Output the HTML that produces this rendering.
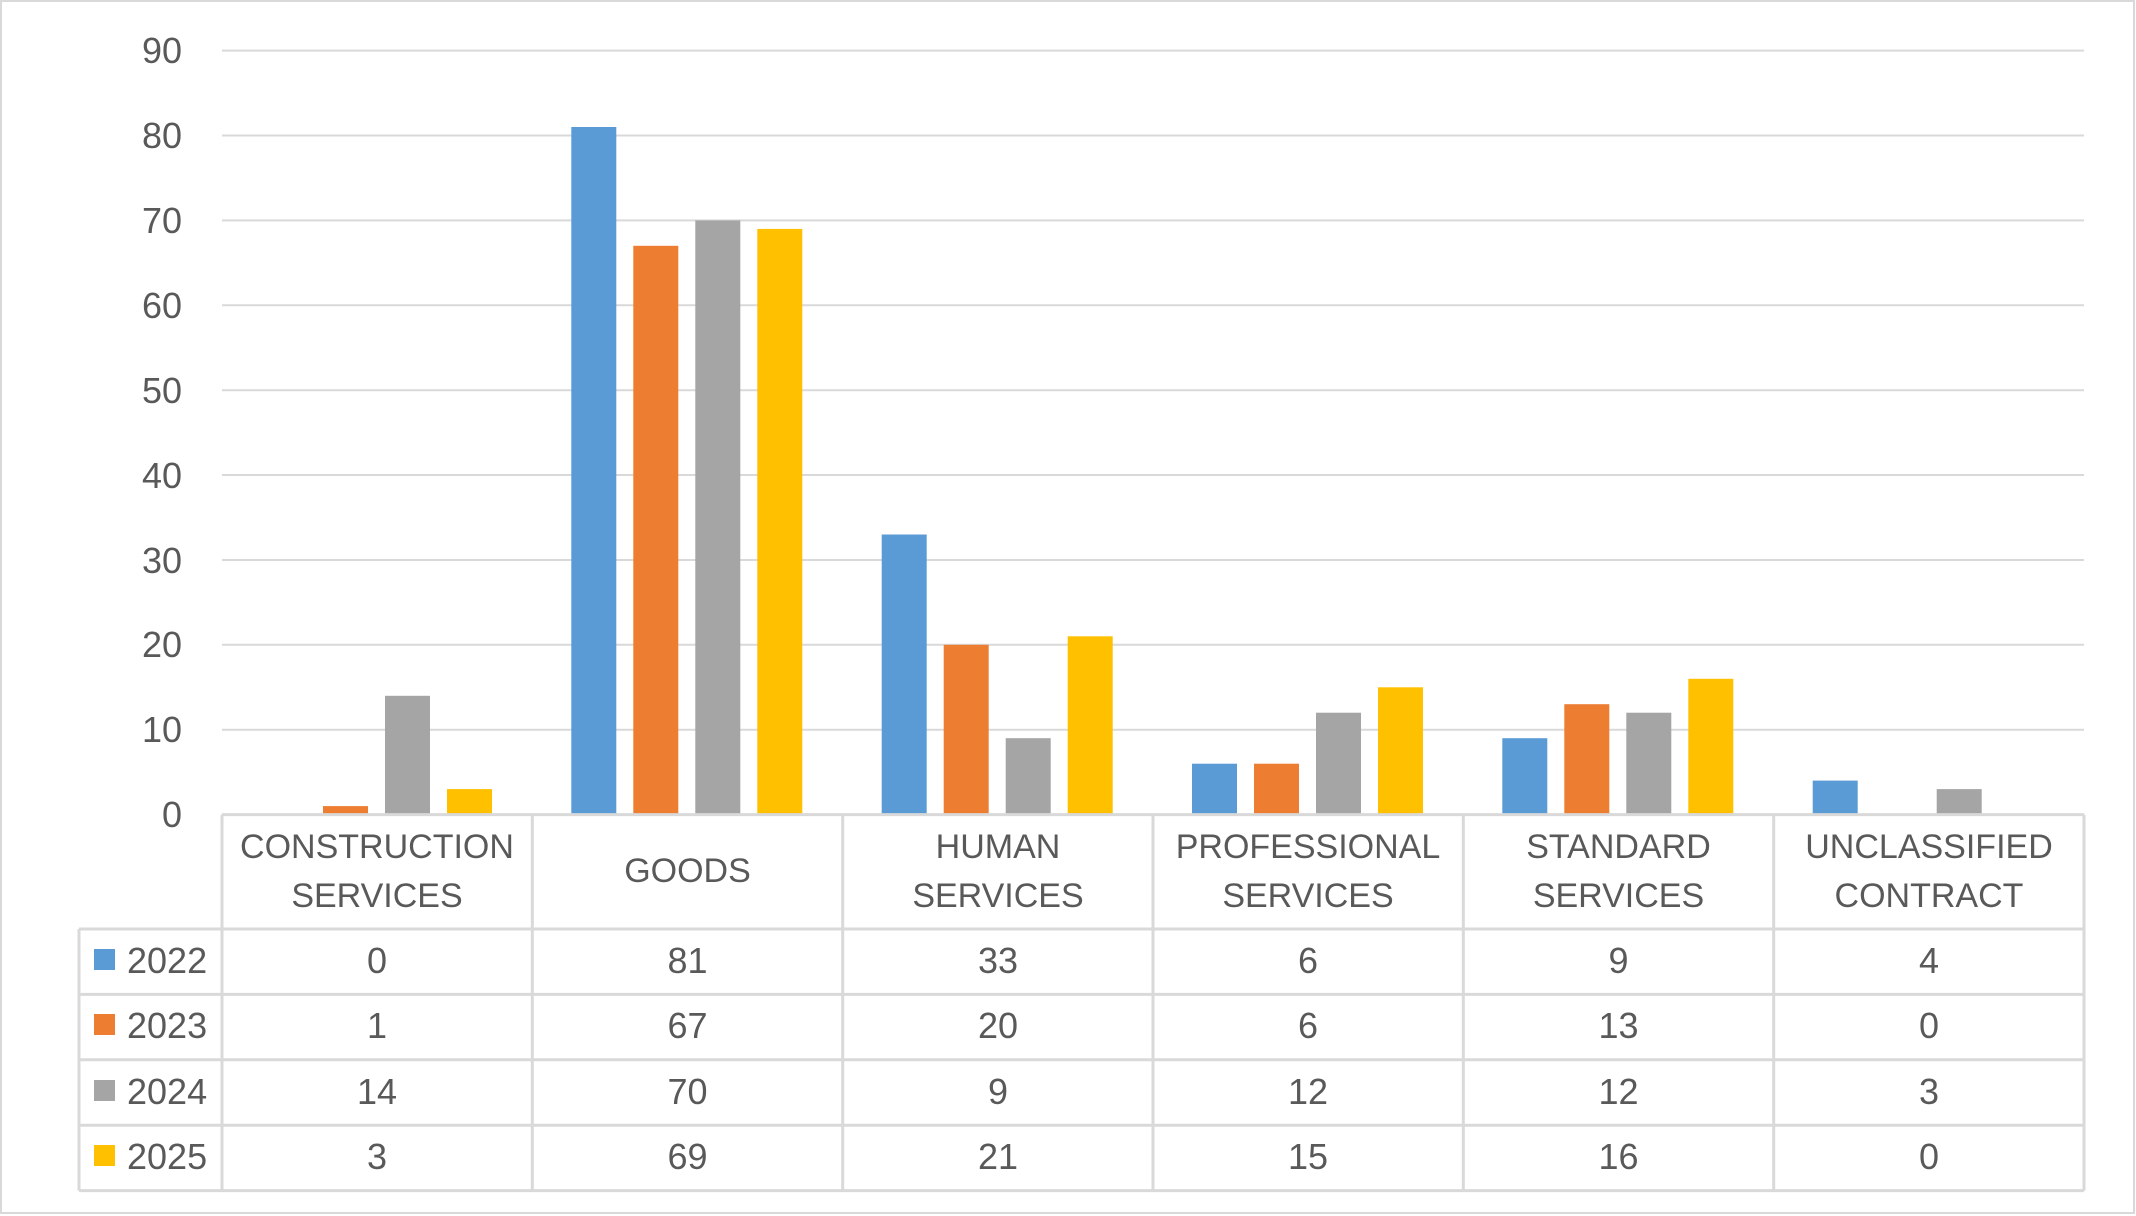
<!DOCTYPE html>
<html><head><meta charset="utf-8"><style>
html,body{margin:0;padding:0;background:#fff;}
svg{display:block;font-family:"Liberation Sans",sans-serif;}
text{fill:#595959;font-size:34px;}
.n{font-size:36px;}
</style></head><body>
<svg width="2136" height="1216" viewBox="0 0 2136 1216">
<rect x="1" y="1" width="2133" height="1212" fill="#fff" stroke="#D9D9D9" stroke-width="2"/>
<g stroke="#D9D9D9" stroke-width="2">
<line x1="222" y1="50.6" x2="2084" y2="50.6"/>
<line x1="222" y1="135.5" x2="2084" y2="135.5"/>
<line x1="222" y1="220.4" x2="2084" y2="220.4"/>
<line x1="222" y1="305.3" x2="2084" y2="305.3"/>
<line x1="222" y1="390.2" x2="2084" y2="390.2"/>
<line x1="222" y1="475.0" x2="2084" y2="475.0"/>
<line x1="222" y1="560.0" x2="2084" y2="560.0"/>
<line x1="222" y1="644.8" x2="2084" y2="644.8"/>
<line x1="222" y1="729.7" x2="2084" y2="729.7"/>
</g>
<g text-anchor="end" class="n">
<text class="n" x="182" y="63">90</text><text class="n" x="182" y="148">80</text><text class="n" x="182" y="233">70</text>
<text class="n" x="182" y="318">60</text><text class="n" x="182" y="403">50</text><text class="n" x="182" y="488">40</text>
<text class="n" x="182" y="573">30</text><text class="n" x="182" y="657">20</text><text class="n" x="182" y="742">10</text>
<text class="n" x="182" y="827">0</text>
</g>
<g>
<rect x="323" y="806.1" width="45" height="8.5" fill="#ED7D31"/>
<rect x="385" y="695.8" width="45" height="118.8" fill="#A5A5A5"/>
<rect x="447" y="789.1" width="45" height="25.5" fill="#FFC000"/>

<rect x="571.3" y="127.0" width="45" height="687.6" fill="#5B9BD5"/>
<rect x="633.3" y="245.8" width="45" height="568.8" fill="#ED7D31"/>
<rect x="695.3" y="220.4" width="45" height="594.2" fill="#A5A5A5"/>
<rect x="757.3" y="228.9" width="45" height="585.7" fill="#FFC000"/>

<rect x="881.7" y="534.5" width="45" height="280.1" fill="#5B9BD5"/>
<rect x="943.7" y="644.8" width="45" height="169.8" fill="#ED7D31"/>
<rect x="1005.7" y="738.2" width="45" height="76.4" fill="#A5A5A5"/>
<rect x="1067.7" y="636.3" width="45" height="178.3" fill="#FFC000"/>

<rect x="1192" y="763.7" width="45" height="50.9" fill="#5B9BD5"/>
<rect x="1254" y="763.7" width="45" height="50.9" fill="#ED7D31"/>
<rect x="1316" y="712.7" width="45" height="101.9" fill="#A5A5A5"/>
<rect x="1378" y="687.3" width="45" height="127.3" fill="#FFC000"/>

<rect x="1502.3" y="738.2" width="45" height="76.4" fill="#5B9BD5"/>
<rect x="1564.3" y="704.2" width="45" height="110.4" fill="#ED7D31"/>
<rect x="1626.3" y="712.7" width="45" height="101.9" fill="#A5A5A5"/>
<rect x="1688.3" y="678.8" width="45" height="135.8" fill="#FFC000"/>

<rect x="1812.7" y="780.6" width="45" height="34.0" fill="#5B9BD5"/>
<rect x="1936.7" y="789.1" width="45" height="25.5" fill="#A5A5A5"/>
</g>
<g stroke="#D9D9D9" stroke-width="3" fill="none">
<line x1="222" y1="814.6" x2="2084" y2="814.6"/>
<line x1="79" y1="929" x2="2084" y2="929"/>
<line x1="79" y1="994.4" x2="2084" y2="994.4"/>
<line x1="79" y1="1059.8" x2="2084" y2="1059.8"/>
<line x1="79" y1="1125.2" x2="2084" y2="1125.2"/>
<line x1="79" y1="1190.6" x2="2084" y2="1190.6"/>
<line x1="79" y1="929" x2="79" y2="1190.6"/>
<line x1="222" y1="814.6" x2="222" y2="1190.6"/>
<line x1="532.3" y1="814.6" x2="532.3" y2="1190.6"/>
<line x1="842.7" y1="814.6" x2="842.7" y2="1190.6"/>
<line x1="1153" y1="814.6" x2="1153" y2="1190.6"/>
<line x1="1463.3" y1="814.6" x2="1463.3" y2="1190.6"/>
<line x1="1773.7" y1="814.6" x2="1773.7" y2="1190.6"/>
<line x1="2084" y1="814.6" x2="2084" y2="1190.6"/>
</g>
<g text-anchor="middle">
<text x="377" y="858">CONSTRUCTION</text><text x="377" y="907">SERVICES</text>
<text x="687.5" y="882">GOODS</text>
<text x="998" y="858">HUMAN</text><text x="998" y="907">SERVICES</text>
<text x="1308" y="858">PROFESSIONAL</text><text x="1308" y="907">SERVICES</text>
<text x="1618.5" y="858">STANDARD</text><text x="1618.5" y="907">SERVICES</text>
<text x="1929" y="858">UNCLASSIFIED</text><text x="1929" y="907">CONTRACT</text>
</g>
<rect x="94" y="949" width="21" height="21" fill="#5B9BD5"/>
<rect x="94" y="1014" width="21" height="21" fill="#ED7D31"/>
<rect x="94" y="1080" width="21" height="21" fill="#A5A5A5"/>
<rect x="94" y="1145" width="21" height="21" fill="#FFC000"/>
<text class="n" x="127" y="973">2022</text>
<text class="n" x="127" y="1038">2023</text>
<text class="n" x="127" y="1104">2024</text>
<text class="n" x="127" y="1169">2025</text>
<g text-anchor="middle">
<text class="n" x="377" y="973">0</text><text class="n" x="687.5" y="973">81</text><text class="n" x="998" y="973">33</text><text class="n" x="1308" y="973">6</text><text class="n" x="1618.5" y="973">9</text><text class="n" x="1929" y="973">4</text>
<text class="n" x="377" y="1038">1</text><text class="n" x="687.5" y="1038">67</text><text class="n" x="998" y="1038">20</text><text class="n" x="1308" y="1038">6</text><text class="n" x="1618.5" y="1038">13</text><text class="n" x="1929" y="1038">0</text>
<text class="n" x="377" y="1104">14</text><text class="n" x="687.5" y="1104">70</text><text class="n" x="998" y="1104">9</text><text class="n" x="1308" y="1104">12</text><text class="n" x="1618.5" y="1104">12</text><text class="n" x="1929" y="1104">3</text>
<text class="n" x="377" y="1169">3</text><text class="n" x="687.5" y="1169">69</text><text class="n" x="998" y="1169">21</text><text class="n" x="1308" y="1169">15</text><text class="n" x="1618.5" y="1169">16</text><text class="n" x="1929" y="1169">0</text>
</g>
</svg>
</body></html>
